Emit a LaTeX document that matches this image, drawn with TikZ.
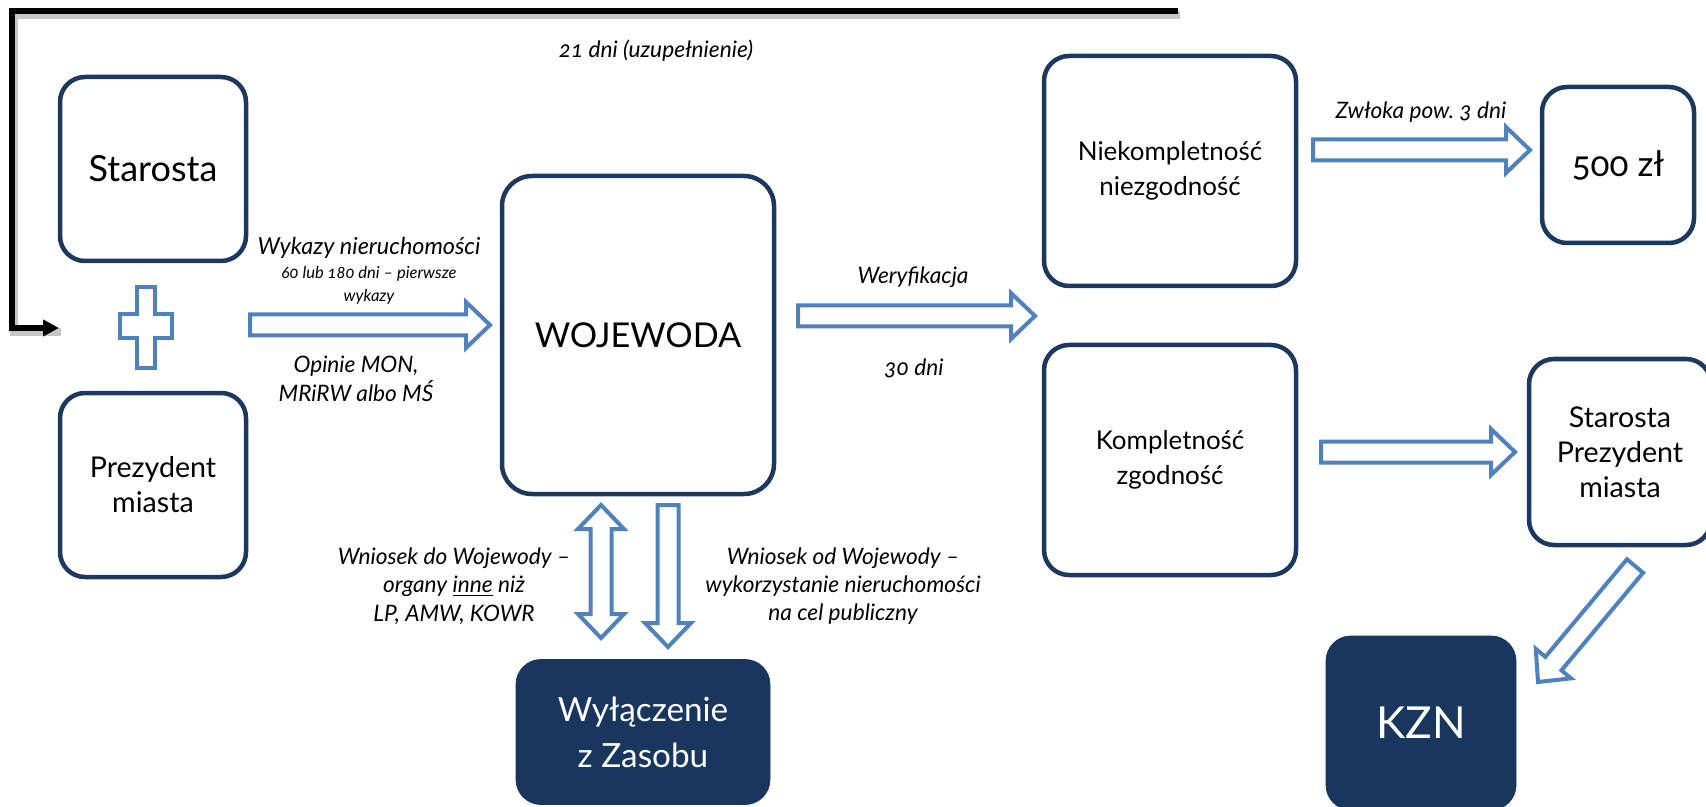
\documentclass[tikz,border=0pt]{standalone}
\usepackage{fontspec}
\setmainfont{Lato}[Numbers=OldStyle, Scale=0.9]
\usetikzlibrary{calc,arrows.meta}

\definecolor{navy}{RGB}{28,56,96}
\definecolor{navyfill}{RGB}{24,54,94}
\definecolor{arrowblue}{RGB}{79,129,189}

\newcommand\fsz[2]{\fontsize{#1}{#2}\selectfont}

\tikzset{
  roundbox/.style={draw=navy, line width=2.25pt, rounded corners=12.5pt, align=center, inner sep=0pt},
  darkbox/.style={fill=navyfill, draw=navyfill, text=white, rounded corners=12.5pt, align=center, inner sep=0pt},
  hollow/.style={draw=arrowblue, line width=2pt, fill=white, line join=miter},
  lbl/.style={font=\itshape\fsz{12.6}{14.2}, align=center, inner sep=0pt},
  loopline/.style={black, line width=3pt, line join=miter},
}

% hollow block arrow from #1 to #2
\newcommand\blockarrow[2]{%
  \coordinate (neck) at ($(#2)!12pt!(#1)$);
  \draw[hollow] ($(#1)!5.25pt!90:(#2)$) -- ($(neck)!5.25pt!90:(#2)$) -- ($(neck)!11.5pt!90:(#2)$) -- (#2)
    -- ($(neck)!11.5pt!-90:(#2)$) -- ($(neck)!5.25pt!-90:(#2)$) -- ($(#1)!5.25pt!-90:(#2)$) -- cycle;}

% hollow block arrow with a head at both ends
\newcommand\doublearrow[2]{%
  \coordinate (neckA) at ($(#1)!12pt!(#2)$);
  \coordinate (neckB) at ($(#2)!12pt!(#1)$);
  \draw[hollow] (#1) -- ($(neckA)!11.5pt!90:(#2)$) -- ($(neckA)!5.25pt!90:(#2)$) -- ($(neckB)!5.25pt!90:(#2)$)
    -- ($(neckB)!11.5pt!90:(#2)$) -- (#2) -- ($(neckB)!11.5pt!-90:(#2)$) -- ($(neckB)!5.25pt!-90:(#2)$)
    -- ($(neckA)!5.25pt!-90:(#2)$) -- ($(neckA)!11.5pt!-90:(#2)$) -- cycle;}

\begin{document}
\begin{tikzpicture}[x=0.5pt, y=-0.5pt]
  \path[use as bounding box, clip] (0,0) rectangle (1706,807);

  % boxes
  \node[roundbox, minimum width=93pt, minimum height=92pt, font=\fsz{20}{23}] (starosta) at (153,169) {Starosta};
  \node[roundbox, minimum width=93pt, minimum height=92pt, font=\fsz{15.9}{17.5}] (prezydent) at (153,485) {Prezydent\\miasta};
  \node[roundbox, minimum width=136pt, minimum height=159pt, rounded corners=15pt, font=\fsz{19}{23}] (wojewoda) at (638,335) {WOJEWODA};
  \node[roundbox, minimum width=126pt, minimum height=115pt, font=\fsz{14.4}{17.5}] (niekompl) at (1170,171) {Niekompletność\\niezgodność};
  \node[roundbox, minimum width=126pt, minimum height=115pt, font=\fsz{14.4}{17.5}] (kompl) at (1170,460) {Kompletność\\zgodność};
  \node[roundbox, minimum width=76pt, minimum height=78pt, font=\fsz{19.5}{23}] (kara) at (1618,165) {500 zł};
  \node[roundbox, minimum width=91pt, minimum height=93pt, font=\fsz{15.9}{17.5}] (starosta2) at (1620,452) {Starosta\\Prezydent\\miasta};
  \node[darkbox, minimum width=95pt, minimum height=87pt, font=\fsz{24.5}{28}] (kzn) at (1421,723) {KZN};
  \node[darkbox, minimum width=127pt, minimum height=72.5pt, font=\fsz{18.5}{23}] (wylaczenie) at (643,732) {Wyłączenie\\z Zasobu};

  % plus
  \draw[hollow, shift={(146,327)}] (-9,-40) -- (9,-40) -- (9,-13) -- (26,-13) -- (26,11) -- (9,11)
    -- (9,41) -- (-9,41) -- (-9,11) -- (-26,11) -- (-26,-13) -- (-9,-13) -- cycle;

  % return line
  \coordinate (loopstart) at (1178,11);
  \coordinate (loopcorner) at (12,11);
  \coordinate (loopend) at (59,328);
  \draw[loopline, black!22, line width=4pt, transform canvas={shift={(1pt,-2pt)}}] (loopstart) -- (loopcorner) |- (loopend);
  \draw[loopline, -{Triangle[length=8pt,width=8pt]}] (loopstart) -- (loopcorner) |- (loopend);

  % block arrows
  \coordinate (wyk-s) at (250,325);   \coordinate (wyk-e) at (490,325);
  \coordinate (wer-s) at (798,316);   \coordinate (wer-e) at (1035,316);
  \coordinate (zwl-s) at (1313,150);  \coordinate (zwl-e) at (1530,150);
  \coordinate (kom-s) at (1321,452);  \coordinate (kom-e) at (1515,452);
  \coordinate (kzn-s) at (1635,566);  \coordinate (kzn-e) at (1538,682);
  \coordinate (do-s) at (601,505);    \coordinate (do-e) at (601,638);
  \coordinate (od-s) at (668,505);    \coordinate (od-e) at (668,647);
  \blockarrow{wyk-s}{wyk-e}
  \blockarrow{wer-s}{wer-e}
  \blockarrow{zwl-s}{zwl-e}
  \blockarrow{kom-s}{kom-e}
  \blockarrow{kzn-s}{kzn-e}
  \doublearrow{do-s}{do-e}
  \blockarrow{od-s}{od-e}

  % labels
  \node[lbl] (uzup) at (656,51) {21 dni (uzupełnienie)};
  \node[lbl, font=\itshape\fsz{13}{15}] (wykazy) at (369,248) {Wykazy nieruchomości};
  \node[lbl, font=\itshape\fsz{9.2}{11.5}] (terminy) at (369,285) {60 lub 180 dni – pierwsze\\wykazy};
  \node[lbl] (opinie) at (356,379) {Opinie MON,\\MRiRW albo MŚ};
  \node[lbl] (weryf) at (913,277) {Weryfikacja};
  \node[lbl] (dni30) at (914,368) {30 dni};
  \node[lbl] (zwloka) at (1421,112) {Zwłoka pow.\ 3 dni};
  \node[lbl] (wniosekdo) at (454,586) {Wniosek do Wojewody –\\organy \underline{inne} niż\\LP, AMW, KOWR};
  \node[lbl] (wniosekod) at (843,586) {Wniosek od Wojewody –\\wykorzystanie nieruchomości\\na cel publiczny};
\end{tikzpicture}
\end{document}
